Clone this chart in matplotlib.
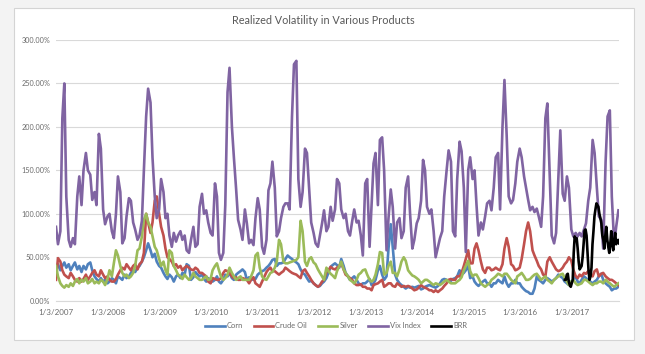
import matplotlib
matplotlib.use("Agg")
import matplotlib.pyplot as plt
from matplotlib.patches import Rectangle
from matplotlib.ticker import FuncFormatter, MultipleLocator
import pandas as pd

plt.rcParams["font.family"] = ["Lato", "DejaVu Sans"]

title = "Realized Volatility in Various Products"
series_names = ["Corn", "Crude Oil", "Silver", "Vix Index", "BRR"]
tick_years = list(range(2007, 2018))

# semi-monthly observations, Jan 2007 .. Dec 2017 (values in %)
vix = [85, 65, 80, 210, 250, 120, 70, 62, 72, 65,
       120, 143, 110, 150, 170, 150, 145, 116, 125, 110,
       192, 175, 105, 88, 97, 100, 80, 72, 100, 143,
       125, 66, 72, 97, 118, 115, 90, 82, 70, 75,
       92, 150, 212, 244, 228, 165, 120, 95, 105, 140,
       125, 95, 100, 75, 62, 78, 68, 75, 80, 70,
       75, 58, 55, 70, 85, 62, 65, 108, 123, 100,
       104, 90, 78, 75, 135, 120, 55, 47, 55, 110,
       240, 268, 200, 165, 128, 93, 82, 70, 105, 89,
       66, 70, 64, 95, 118, 105, 62, 54, 70, 127,
       135, 160, 130, 74, 80, 95, 108, 112, 112, 105,
       212, 272, 276, 140, 108, 125, 175, 170, 127, 90,
       78, 66, 62, 75, 89, 104, 80, 85, 108, 92,
       105, 140, 135, 105, 95, 100, 80, 75, 92, 105,
       90, 92, 75, 52, 135, 140, 62, 110, 158, 170,
       110, 185, 188, 150, 58, 95, 128, 108, 60, 90,
       95, 72, 80, 130, 143, 100, 60, 70, 89, 95,
       115, 162, 150, 108, 100, 105, 80, 50, 62, 72,
       80, 120, 150, 173, 160, 80, 74, 140, 183, 172,
       130, 56, 150, 165, 140, 150, 110, 75, 90, 82,
       97, 112, 115, 104, 130, 165, 170, 105, 200, 254,
       189, 120, 112, 116, 135, 160, 175, 165, 143, 130,
       116, 104, 108, 102, 106, 97, 85, 120, 210, 227,
       143, 75, 66, 78, 140, 196, 123, 115, 143, 130,
       82, 74, 78, 74, 78, 74, 82, 89, 115, 130,
       185, 170, 130, 97, 93, 60, 160, 212, 219, 120,
       65, 85, 104]

corn = [38, 42, 35, 40, 44, 38, 42, 35, 40, 44,
        36, 40, 33, 40, 36, 42, 44, 35, 28, 25,
        22, 26, 22, 24, 20, 22, 26, 24, 20, 28,
        26, 24, 30, 26, 28, 32, 35, 33, 38, 40,
        45, 50, 58, 66, 58, 50, 54, 45, 40, 38,
        32, 28, 25, 30, 27, 22, 28, 30, 26, 32,
        30, 42, 40, 24, 27, 33, 30, 28, 30, 25,
        22, 26, 24, 22, 24, 28, 22, 20, 24, 30,
        28, 32, 26, 24, 30, 32, 34, 36, 33, 24,
        27, 25, 24, 25, 30, 32, 34, 35, 38, 40,
        43, 47, 48, 40, 43, 43, 44, 48, 52, 50,
        48, 46, 44, 42, 36, 32, 30, 26, 22, 23,
        20, 18, 16, 17, 20, 22, 26, 32, 39, 41,
        43, 41, 38, 48, 40, 32, 28, 24, 26, 28,
        24, 20, 18, 20, 20, 22, 25, 18, 20, 24,
        35, 40, 30, 24, 28, 60, 88, 62, 30, 24,
        20, 18, 16, 14, 16, 15, 16, 15, 16, 17,
        13, 14, 16, 17, 18, 17, 16, 15, 17, 20,
        24, 25, 24, 22, 23, 25, 26, 28, 35, 30,
        32, 35, 40, 26, 28, 22, 19, 17, 20, 22,
        24, 20, 20, 16, 20, 20, 24, 22, 20, 28,
        20, 16, 20, 20, 24, 20, 20, 16, 13, 11,
        10, 8, 8, 14, 28, 24, 22, 20, 24, 26,
        24, 22, 24, 26, 30, 28, 26, 22, 20, 18,
        22, 24, 28, 22, 20, 24, 28, 26, 24, 22,
        20, 22, 24, 28, 31, 24, 20, 18, 16, 12,
        14, 14, 16]

crude = [24, 49, 45, 35, 30, 28, 26, 32, 28, 24,
         22, 26, 22, 25, 30, 24, 28, 32, 35, 30,
         28, 35, 30, 26, 28, 24, 22, 22, 25, 30,
         35, 38, 36, 42, 38, 35, 40, 42, 36, 42,
         45, 55, 100, 90, 78, 90, 115, 120, 100, 85,
         75, 60, 50, 48, 45, 40, 42, 38, 40, 35,
         38, 40, 38, 36, 35, 38, 36, 32, 32, 30,
         28, 22, 20, 26, 25, 24, 24, 26, 32, 35,
         34, 32, 28, 26, 27, 24, 24, 26, 25, 24,
         20, 24, 27, 20, 18, 16, 22, 27, 33, 36,
         38, 34, 34, 32, 30, 32, 34, 38, 36, 34,
         32, 31, 30, 28, 26, 34, 36, 32, 28, 24,
         20, 18, 16, 18, 22, 24, 33, 35, 39, 37,
         36, 38, 40, 43, 36, 30, 28, 26, 24, 20,
         18, 18, 19, 16, 16, 14, 14, 12, 18, 19,
         20, 22, 24, 16, 18, 20, 20, 17, 16, 20,
         18, 16, 17, 16, 17, 16, 14, 12, 13, 15,
         18, 16, 15, 14, 12, 12, 10, 12, 10, 12,
         14, 17, 20, 24, 25, 24, 24, 28, 28, 32,
         40, 48, 58, 43, 43, 60, 66, 58, 45, 36,
         32, 38, 38, 35, 36, 38, 36, 35, 42, 60,
         72, 62, 42, 40, 35, 36, 38, 48, 65, 80,
         90, 80, 58, 52, 46, 40, 36, 30, 28, 45,
         50, 45, 40, 36, 34, 35, 38, 42, 45, 50,
         46, 36, 28, 26, 30, 28, 32, 31, 34, 30,
         28, 34, 36, 28, 31, 32, 28, 26, 24, 24,
         22, 20, 18]

silver = [40, 28, 20, 17, 15, 18, 16, 20, 17, 22,
          25, 20, 24, 22, 26, 20, 22, 25, 20, 22,
          20, 24, 22, 18, 25, 35, 28, 43, 58, 52,
          40, 32, 28, 30, 26, 28, 32, 40, 58, 60,
          74, 93, 100, 90, 85, 74, 62, 58, 48, 40,
          45, 35, 30, 58, 55, 40, 35, 30, 28, 25,
          30, 27, 24, 26, 32, 28, 26, 24, 24, 26,
          28, 24, 25, 35, 40, 43, 35, 28, 24, 26,
          30, 38, 32, 28, 24, 26, 28, 24, 24, 24,
          24, 28, 35, 52, 55, 38, 28, 25, 24, 28,
          32, 33, 38, 45, 70, 65, 45, 43, 43, 44,
          45, 46, 47, 50, 92, 80, 45, 40, 48, 50,
          44, 42, 36, 32, 28, 24, 38, 34, 31, 29,
          26, 34, 40, 45, 36, 32, 28, 24, 22, 20,
          24, 30, 32, 35, 36, 30, 24, 22, 24, 30,
          42, 56, 55, 30, 32, 40, 45, 32, 32, 28,
          36, 45, 50, 46, 35, 32, 29, 28, 26, 24,
          20, 22, 24, 24, 22, 20, 18, 20, 19, 18,
          20, 22, 24, 22, 20, 20, 20, 22, 24, 27,
          35, 40, 46, 34, 28, 30, 30, 26, 20, 18,
          16, 18, 20, 24, 26, 28, 31, 30, 28, 31,
          31, 28, 24, 22, 20, 28, 30, 32, 28, 24,
          24, 25, 28, 30, 31, 28, 24, 26, 28, 24,
          22, 20, 24, 26, 28, 30, 31, 26, 22, 18,
          22, 24, 20, 18, 19, 20, 24, 24, 22, 20,
          18, 20, 20, 22, 22, 20, 24, 22, 20, 18,
          16, 18, 20]

# weekly observations from mid-Nov 2016
brr = [24, 24, 30, 31, 22, 18, 16, 20, 24, 55,
       74, 70, 72, 60, 45, 36, 38, 40, 50, 65,
       81, 82, 75, 55, 35, 24, 28, 38, 65, 80,
       97, 105, 112, 110, 108, 100, 95, 89, 75, 70,
       60, 75, 85, 70, 62, 55, 65, 80, 65, 58,
       70, 78, 65, 68, 70, 66]

dates = pd.date_range("2007-01-01", periods=len(vix), freq="SMS")
brr_dates = pd.date_range("2016-11-16", periods=len(brr), freq="7D")

W, H = 645, 354
fig = plt.figure(figsize=(W / 100, H / 100), dpi=100)
fig.patch.set_facecolor("#f3f3f3")
fig.patches.append(Rectangle((14 / W, 1 - 340 / H), 620 / W, 332 / H,
                             transform=fig.transFigure, facecolor="white",
                             edgecolor="#d4d4d4", linewidth=0.8, zorder=-10))

ax = fig.add_axes([56 / W, 1 - 300.7 / H, 563 / W, 260.7 / H])
ax.set_facecolor("none")

colors = ["#4F81BD", "#C0504D", "#9BBB59", "#8064A2", "#000000"]
lw = 1.9
ax.plot(dates, corn, color=colors[0], lw=lw, label=series_names[0])
ax.plot(dates, crude, color=colors[1], lw=lw, label=series_names[1])
ax.plot(dates, silver, color=colors[2], lw=lw, label=series_names[2])
ax.plot(dates, vix, color=colors[3], lw=lw, label=series_names[3])
ax.plot(brr_dates, brr, color=colors[4], lw=lw, label=series_names[4])

ax.set_ylim(0, 300)
ax.yaxis.set_major_locator(MultipleLocator(50))
ax.yaxis.set_major_formatter(FuncFormatter(lambda v, p: f"{v:.2f}%"))
ax.set_xlim(pd.Timestamp("2007-01-01"), pd.Timestamp("2017-12-05"))
ticks = [pd.Timestamp(f"{y}-01-03") for y in tick_years]
ax.set_xticks(ticks)
ax.set_xticklabels([f"1/3/{y}" for y in tick_years])

ax.grid(axis="y", color="#d9d9d9", lw=0.8)
ax.set_axisbelow(True)
for s in ["top", "right", "left"]:
    ax.spines[s].set_visible(False)
ax.spines["bottom"].set_color("#d9d9d9")
ax.spines["bottom"].set_linewidth(0.8)
ax.tick_params(axis="both", length=0, labelcolor="#6b6b6b")
ax.tick_params(axis="x", pad=6, labelsize=5.8)
ax.tick_params(axis="y", pad=4, labelsize=5.2)

fig.text(323 / W, 1 - 20 / H, title, ha="center", va="center",
         fontsize=7.8, color="#595959")

fig.legend(loc="center", bbox_to_anchor=(336 / W, 1 - 326 / H), ncol=5,
           frameon=False, fontsize=5.4, labelcolor="#6b6b6b",
           handlelength=2.6, handletextpad=0.3, columnspacing=1.4)

fig.savefig("out.png", dpi=100, facecolor=fig.get_facecolor())
